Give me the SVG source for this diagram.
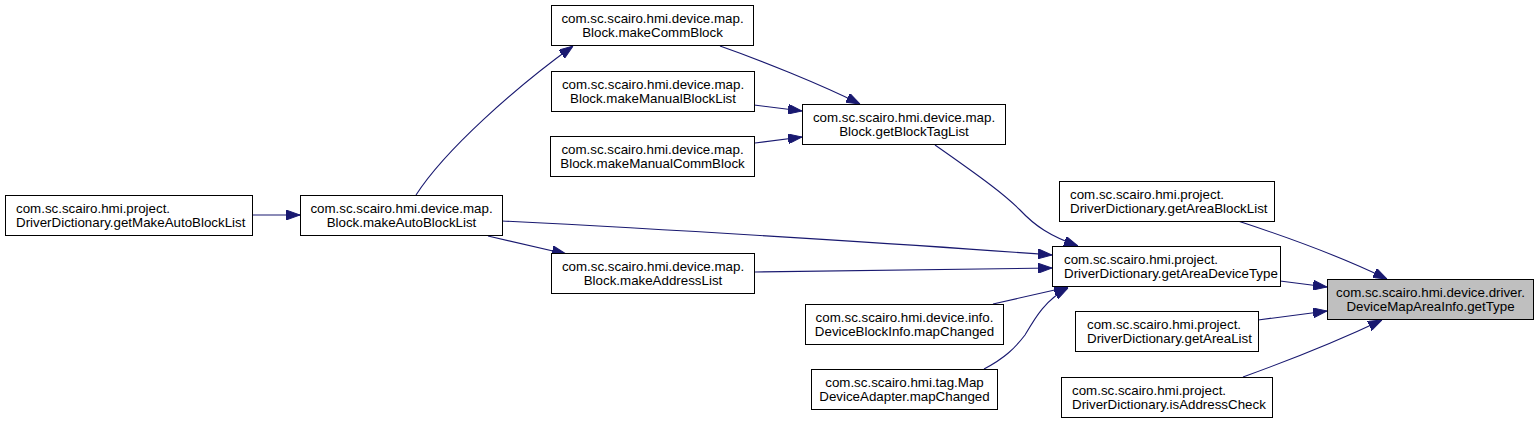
<svg xmlns="http://www.w3.org/2000/svg" width="1540" height="423" viewBox="0 0 1540 423">
<style>
.bg{fill:#ffffff}
.node rect{fill:#ffffff;stroke:#000000;stroke-width:1}
.node.hl rect{fill:#bfbfbf}
.node text{font-family:"Liberation Sans",Arial,Helvetica,sans-serif;font-size:13.33px;fill:#000000}
.c{text-anchor:middle}
.l{text-anchor:start}
.edges path{fill:none;stroke:#191970;stroke-width:1.1}
</style>
<defs>
<marker id="ah" markerUnits="userSpaceOnUse" markerWidth="14" markerHeight="10" viewBox="0 0 14 10" refX="14" refY="5" orient="auto">
<path d="M0,0 L14,5 L0,10 z" fill="#191970" stroke="#191970" stroke-width="1"/>
</marker>
</defs>
<rect class="bg" x="0" y="0" width="1540" height="423"/>
<g id="edges" class="edges">
<path d="M252,215 L300,215" marker-end="url(#ah)"/>
<path d="M416,195 C445,150 515,88 573,46" marker-end="url(#ah)"/>
<path d="M720,46 C760,60 820,84 860,104" marker-end="url(#ah)"/>
<path d="M754,105 L802,111" marker-end="url(#ah)"/>
<path d="M755,143 L802,137" marker-end="url(#ah)"/>
<path d="M935,145 C985,180 1005,195 1020,210 C1035,226 1050,236 1078,246" marker-end="url(#ah)"/>
<path d="M502,221 C680,230 920,245 1052,255" marker-end="url(#ah)"/>
<path d="M488,236 L566,254" marker-end="url(#ah)"/>
<path d="M755,272 L1052,268" marker-end="url(#ah)"/>
<path d="M993,304 L1068,287" marker-end="url(#ah)"/>
<path d="M984,369 C1005,358 1015,348 1025,335 C1035,318 1045,300 1068,288" marker-end="url(#ah)"/>
<path d="M1238,221 C1290,238 1340,256 1387,279" marker-end="url(#ah)"/>
<path d="M1280,281 L1327,287" marker-end="url(#ah)"/>
<path d="M1258,320 L1327,311" marker-end="url(#ah)"/>
<path d="M1243,377 C1290,360 1340,340 1382,320" marker-end="url(#ah)"/>
</g>
<g id="node_getType" class="node hl">
<rect x="1327.5" y="279.5" width="206" height="40"/>
<text class="c" x="1430.5" y="296.5">com.sc.scairo.hmi.device.driver.</text>
<text class="c" x="1430.5" y="310.5">DeviceMapAreaInfo.getType</text>
</g>
<g id="node_getAreaBlockList" class="node">
<rect x="1059.5" y="181.5" width="215" height="40"/>
<text class="l" x="1070" y="198.5">com.sc.scairo.hmi.project.</text>
<text class="l" x="1070" y="212.5">DriverDictionary.getAreaBlockList</text>
</g>
<g id="node_getAreaDeviceType" class="node">
<rect x="1052.5" y="246.5" width="228" height="40"/>
<text class="l" x="1064" y="263.5">com.sc.scairo.hmi.project.</text>
<text class="l" x="1064" y="277.5">DriverDictionary.getAreaDeviceType</text>
</g>
<g id="node_getAreaList" class="node">
<rect x="1075.5" y="311.5" width="183" height="40"/>
<text class="l" x="1087" y="328.5">com.sc.scairo.hmi.project.</text>
<text class="l" x="1087" y="342.5">DriverDictionary.getAreaList</text>
</g>
<g id="node_isAddressCheck" class="node">
<rect x="1061.5" y="377.5" width="211" height="40"/>
<text class="l" x="1072" y="394.5">com.sc.scairo.hmi.project.</text>
<text class="l" x="1072" y="408.5">DriverDictionary.isAddressCheck</text>
</g>
<g id="node_getBlockTagList" class="node">
<rect x="802.5" y="104.5" width="203" height="40"/>
<text class="c" x="904" y="121.5">com.sc.scairo.hmi.device.map.</text>
<text class="c" x="904" y="135.5">Block.getBlockTagList</text>
</g>
<g id="node_makeCommBlock" class="node">
<rect x="551.5" y="5.5" width="202" height="40"/>
<text class="c" x="652.5" y="22.5">com.sc.scairo.hmi.device.map.</text>
<text class="c" x="652.5" y="36.5">Block.makeCommBlock</text>
</g>
<g id="node_makeManualBlockList" class="node">
<rect x="551.5" y="71.5" width="203" height="40"/>
<text class="c" x="653" y="88.5">com.sc.scairo.hmi.device.map.</text>
<text class="c" x="653" y="102.5">Block.makeManualBlockList</text>
</g>
<g id="node_makeManualCommBlock" class="node">
<rect x="550.5" y="136.5" width="204" height="40"/>
<text class="c" x="652.5" y="153.5">com.sc.scairo.hmi.device.map.</text>
<text class="c" x="652.5" y="167.5">Block.makeManualCommBlock</text>
</g>
<g id="node_makeAutoBlockList" class="node">
<rect x="300.5" y="195.5" width="202" height="40"/>
<text class="c" x="401.5" y="212.5">com.sc.scairo.hmi.device.map.</text>
<text class="c" x="401.5" y="226.5">Block.makeAutoBlockList</text>
</g>
<g id="node_getMakeAutoBlockList" class="node">
<rect x="5.5" y="195.5" width="247" height="40"/>
<text class="l" x="16" y="212.5">com.sc.scairo.hmi.project.</text>
<text class="l" x="16" y="226.5">DriverDictionary.getMakeAutoBlockList</text>
</g>
<g id="node_makeAddressList" class="node">
<rect x="551.5" y="253.5" width="203" height="40"/>
<text class="c" x="653" y="270.5">com.sc.scairo.hmi.device.map.</text>
<text class="c" x="653" y="284.5">Block.makeAddressList</text>
</g>
<g id="node_DeviceBlockInfo_mapChanged" class="node">
<rect x="805.5" y="304.5" width="198" height="40"/>
<text class="c" x="904.5" y="321.5">com.sc.scairo.hmi.device.info.</text>
<text class="c" x="904.5" y="335.5">DeviceBlockInfo.mapChanged</text>
</g>
<g id="node_MapDeviceAdapter_mapChanged" class="node">
<rect x="811.5" y="369.5" width="186" height="40"/>
<text class="c" x="904.5" y="386.5">com.sc.scairo.hmi.tag.Map</text>
<text class="c" x="904.5" y="400.5">DeviceAdapter.mapChanged</text>
</g>
</svg>
